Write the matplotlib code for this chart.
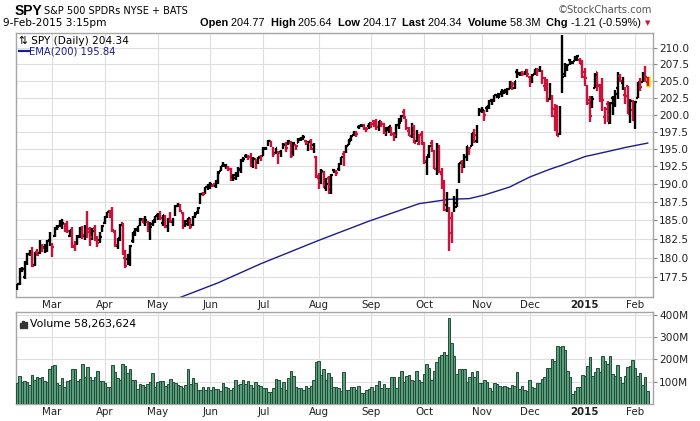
import numpy as np
import pandas as pd
import matplotlib
matplotlib.use("Agg")
import matplotlib.pyplot as plt
from matplotlib.ticker import NullLocator
from matplotlib.patches import Rectangle

# trading days, 10-Feb-2014 .. 9-Feb-2015
holidays = ["2014-02-17", "2014-04-18", "2014-05-26", "2014-07-04", "2014-09-01",
            "2014-11-27", "2014-12-25", "2015-01-01", "2015-01-19"]
dates = pd.bdate_range("2014-02-10", "2015-02-09")
dates = dates[~dates.isin(pd.to_datetime(holidays))]

month_labels = ["Mar", "Apr", "May", "Jun", "Jul", "Aug", "Sep", "Oct", "Nov", "Dec", "2015", "Feb"]

opens = [
    176.2, 176.6, 178.5, 177.4, 179.3, 180.5, 180.5, 179.0, 180.7, 180.6, 181.5, 181.4, 180.9, 182.3,
    181.3, 182.9, 184.0, 184.3, 185.0, 184.5, 184.6, 182.9, 183.8, 181.4, 181.8, 182.9, 184.0, 182.9, 185.5, 183.9, 183.3, 184.0, 182.1, 182.3, 183.6,
    184.6, 185.6, 186.3, 186.6, 183.4, 181.6, 182.6, 184.6, 179.9, 179.8, 180.4, 182.2, 183.2, 183.8, 184.4, 185.1, 185.4, 184.8, 184.0, 184.5, 184.8,
    185.7, 186.0, 184.7, 185.6, 184.2, 185.1, 184.8, 185.7, 187.0, 187.1, 186.0, 184.8, 184.5, 185.1, 184.4, 185.6, 186.1, 187.4, 188.6, 189.0, 189.6,
    190.1, 189.8, 189.8, 190.5, 191.9, 192.6, 192.5, 192.3, 192.1, 190.9, 190.9, 191.4, 192.1, 193.7, 194.0, 193.9, 193.9, 192.5, 193.5, 193.3, 193.7,
    194.0, 195.1, 195.5, 196.1, 195.2, 194.4, 193.3, 194.5, 195.2, 195.7, 195.9, 195.8, 194.2, 195.5, 195.9, 196.4, 196.6, 196.2, 195.9, 196.1, 195.6, 193.9,
    190.9, 190.8, 191.7, 189.5, 190.9, 189.2, 192.0, 191.6, 192.1, 193.1, 194.2, 194.5, 195.6, 196.2, 197.0, 197.4, 198.1, 198.3, 198.4, 197.6, 198.3,
    198.8, 199.0, 198.7, 198.2, 199.0, 198.6, 197.4, 197.7, 198.1, 197.1, 196.7, 198.5, 199.0, 200.3, 199.3, 197.6, 196.9, 198.3, 196.1, 195.7, 197.1,
    195.8, 193.2, 194.1, 195.9, 194.7, 192.2, 195.4, 191.4, 189.5, 187.1, 184.8, 183.3, 187.1, 186.9, 190.4, 193.1, 192.8, 193.9, 194.7, 195.4, 197.3, 196.2, 200.5,
    200.7, 200.3, 200.9, 201.2, 202.1, 202.2, 202.9, 202.5, 203.3, 203.4, 203.4, 203.8, 204.8, 203.9, 206.3, 206.2, 206.2, 206.0, 206.7,
    205.6, 204.8, 206.0, 206.6, 206.7, 206.3, 204.2, 205.1, 202.3, 202.1, 200.8, 197.8, 197.1, 203.3, 206.0, 206.6, 208.2, 207.8, 208.1, 208.2, 208.2, 207.99,
    206.4, 204.2, 202.1, 201.4, 204.0, 206.4, 204.4, 204.1, 199.7, 201.6, 198.8, 202.4, 201.5, 203.99, 205.8, 204.7, 202.9, 204.2, 200.4, 200.6,
    200.05, 202.5, 204.1, 204.8, 206.4, 204.77,
]
highs = [
    176.6, 178.7, 178.8, 179.5, 180.6, 181.0, 181.4, 180.8, 181.2, 182.3, 181.8, 181.8, 182.3, 183.4,
    181.9, 184.1, 184.4, 185.0, 185.2, 184.7, 184.9, 183.7, 184.1, 182.2, 183.0, 184.1, 184.3, 184.4, 186.3, 184.1, 184.0, 184.4, 182.9, 183.5, 184.4,
    185.6, 186.2, 186.4, 186.9, 183.7, 182.6, 184.5, 184.7, 181.0, 180.5, 181.7, 183.5, 184.0, 184.3, 185.4, 185.3, 185.6, 184.9, 184.8, 185.1, 185.6,
    186.0, 186.3, 185.8, 185.7, 185.3, 186.2, 185.3, 187.1, 187.4, 187.2, 186.1, 185.0, 185.4, 185.3, 185.6, 186.1, 186.8, 188.8, 188.9, 189.6, 190.0,
    190.3, 190.1, 190.6, 191.8, 192.6, 193.1, 192.9, 192.5, 192.3, 191.5, 191.7, 192.4, 193.6, 193.9, 194.2, 194.1, 194.4, 193.8, 193.6, 193.8, 194.1,
    195.3, 195.3, 196.3, 196.2, 195.3, 195.2, 194.7, 194.8, 195.8, 196.0, 196.3, 196.1, 196.0, 195.6, 196.6, 196.7, 197.0, 196.3, 196.2, 196.4, 195.8, 194.0,
    191.6, 192.2, 191.8, 190.9, 191.1, 191.4, 192.2, 192.0, 193.0, 193.8, 194.7, 195.5, 196.4, 197.0, 197.6, 197.6, 198.5, 198.6, 198.6, 198.2, 198.7,
    198.9, 199.2, 199.4, 199.1, 199.1, 198.8, 198.1, 198.3, 198.2, 197.4, 198.6, 199.5, 199.9, 200.8, 199.4, 198.1, 198.8, 198.4, 197.7, 197.2, 197.6,
    196.0, 194.0, 195.6, 196.3, 194.8, 195.8, 195.5, 192.3, 190.6, 188.9, 186.8, 186.1, 188.3, 189.3, 193.0, 193.4, 194.3, 195.4, 195.3, 197.3, 197.9, 198.4, 200.9,
    201.1, 200.6, 201.3, 202.1, 202.3, 202.9, 203.1, 203.2, 203.8, 203.7, 203.9, 205.0, 204.9, 205.0, 206.8, 206.4, 206.5, 206.5, 206.8,
    205.8, 206.0, 206.8, 207.0, 207.3, 206.7, 205.6, 205.3, 204.7, 202.9, 201.5, 201.4, 201.2, 212.0, 207.7, 207.5, 208.4, 208.1, 208.8, 208.97, 208.5, 208.19,
    206.9, 204.4, 202.7, 202.7, 206.2, 206.4, 204.6, 205.5, 201.1, 202.0, 201.8, 202.7, 203.7, 206.3, 206.1, 205.6, 204.1, 204.3, 202.3, 202.2,
    202.03, 204.85, 205.5, 206.3, 207.3, 205.64,
]
lows = [
    175.8, 176.4, 178.1, 177.2, 179.0, 180.2, 178.8, 178.9, 180.2, 180.5, 180.8, 180.6, 180.7, 181.6,
    180.1, 182.8, 183.7, 184.1, 183.9, 183.5, 183.3, 182.7, 181.3, 180.9, 181.7, 182.6, 182.5, 182.4, 182.6, 181.6, 182.4, 182.2, 181.4, 182.0, 183.4,
    184.5, 185.3, 185.3, 183.5, 181.4, 181.1, 182.2, 180.3, 178.7, 179.0, 178.9, 181.9, 182.9, 183.4, 184.3, 184.6, 184.3, 183.4, 182.4, 184.3, 184.6,
    185.1, 185.0, 184.3, 184.0, 183.5, 184.6, 184.3, 185.6, 186.8, 186.2, 183.8, 184.1, 184.3, 183.8, 184.3, 185.4, 185.9, 187.3, 188.3, 188.6, 189.2,
    189.4, 189.6, 189.5, 190.1, 191.8, 192.4, 192.2, 191.8, 190.5, 190.5, 190.6, 191.0, 191.6, 193.1, 193.7, 193.4, 192.4, 192.3, 192.2, 192.8, 193.3,
    194.0, 194.8, 195.4, 195.3, 193.9, 194.3, 192.9, 193.9, 195.0, 194.6, 195.5, 193.7, 194.0, 194.8, 195.8, 196.1, 196.3, 195.5, 194.7, 194.9, 194.4, 190.9,
    189.3, 190.0, 189.5, 189.1, 188.6, 188.6, 191.6, 191.1, 191.9, 192.7, 192.5, 194.4, 195.6, 196.1, 196.8, 196.7, 197.9, 198.2, 197.8, 197.4, 197.9,
    198.0, 198.1, 197.7, 197.6, 198.2, 197.1, 196.9, 197.3, 196.9, 196.2, 196.6, 197.9, 198.9, 199.3, 197.7, 196.8, 196.5, 195.8, 196.0, 195.6, 195.6,
    192.9, 191.3, 193.7, 194.6, 192.1, 191.3, 191.6, 189.4, 186.3, 186.2, 180.9, 182.0, 186.1, 186.8, 190.2, 191.6, 192.3, 193.3, 194.1, 195.4, 195.9, 195.9, 199.8,
    200.2, 199.0, 200.3, 200.8, 201.4, 201.9, 202.4, 202.4, 202.6, 203.1, 202.9, 203.8, 203.7, 203.8, 205.5, 205.8, 205.8, 205.9, 205.6,
    204.1, 204.7, 205.9, 205.7, 206.3, 204.6, 203.5, 201.9, 202.1, 199.7, 197.6, 196.8, 197.0, 203.2, 205.6, 206.5, 207.4, 207.6, 208.0, 208.1, 207.5, 205.39,
    204.2, 201.4, 198.9, 200.9, 203.9, 203.5, 201.9, 200.5, 198.6, 198.9, 198.6, 199.9, 201.1, 202.3, 204.8, 203.7, 201.6, 200.1, 198.7, 199.1,
    197.86, 202.5, 203.5, 204.8, 204.8, 204.17,
]
closes = [
    176.5, 178.45, 178.55, 179.45, 180.45, 180.65, 178.95, 180.55, 180.3, 181.3, 181.25, 181.25, 182.2, 182.7,
    181.4, 183.95, 184.1, 184.5, 184.6, 184.5, 183.6, 183.65, 181.6, 181.1, 182.7, 184.0, 183.05, 184.1, 183.5, 182.7, 183.6, 182.3, 181.9, 182.8, 184.3,
    185.5, 186.1, 185.9, 183.7, 181.65, 182.4, 184.4, 180.5, 178.9, 180.3, 181.5, 183.4, 183.7, 184.3, 185.15, 184.7, 185.1, 183.6, 184.15, 185.0, 185.55,
    185.6, 185.3, 185.7, 184.05, 185.15, 184.95, 185.25, 187.0, 187.2, 186.3, 184.7, 184.9, 185.3, 184.1, 185.45, 185.9, 186.7, 188.7, 188.6, 189.6, 189.9,
    190.1, 190.0, 190.4, 191.6, 192.5, 192.7, 192.75, 192.1, 190.7, 191.3, 191.45, 192.0, 193.4, 193.6, 193.95, 193.9, 192.7, 193.6, 193.45, 193.8, 193.75,
    195.05, 195.2, 196.2, 195.5, 194.25, 195.1, 194.35, 194.6, 195.6, 195.2, 196.2, 193.95, 195.9, 195.4, 196.35, 196.55, 196.7, 195.9, 195.95, 194.95, 195.0, 191.15,
    190.55, 191.9, 189.95, 190.05, 189.1, 191.3, 191.85, 191.55, 192.85, 193.8, 193.75, 195.35, 196.4, 196.9, 197.5, 197.2, 198.2, 198.3, 198.2, 197.9, 198.7,
    198.6, 198.45, 198.2, 199.05, 198.55, 197.3, 198.05, 198.25, 197.1, 196.95, 198.45, 198.7, 199.8, 199.6, 198.05, 196.8, 198.65, 195.85, 197.55, 197.0, 195.95,
    193.3, 193.3, 195.45, 195.2, 192.2, 195.55, 191.7, 189.5, 186.4, 186.7, 185.4, 185.25, 187.45, 189.25, 193.0, 191.65, 193.85, 195.35, 195.1, 197.3, 197.0, 198.3, 200.55,
    200.65, 199.95, 201.25, 202.05, 202.2, 202.85, 203.05, 203.1, 203.25, 203.7, 203.8, 204.85, 204.6, 204.95, 206.0, 206.15, 206.0, 206.5, 206.05,
    204.6, 205.95, 206.75, 206.5, 206.85, 205.5, 205.35, 202.05, 203.05, 199.8, 198.4, 196.8, 200.7, 205.65, 206.52, 207.47, 207.75, 207.77, 208.44, 208.72, 207.6, 205.54,
    205.43, 201.72, 199.82, 202.31, 205.9, 204.25, 202.65, 202.08, 200.86, 199.02, 201.63, 202.06, 203.08, 206.1, 204.97, 205.45, 202.74, 200.14, 201.99, 199.45,
    201.92, 204.84, 204.06, 206.12, 205.55, 204.34,
]
# volume in millions of shares
volumes = [
    92, 125, 100, 103, 100, 85, 128, 107, 121, 118, 121, 103, 98, 155,
    170, 173, 95, 85, 118, 75, 103, 107, 155, 155, 104, 110, 178, 121, 164, 119, 107, 122, 146, 103, 103,
    92, 78, 78, 175, 143, 115, 107, 179, 170, 137, 158, 107, 107, 67, 88, 85, 75, 88, 100, 137, 78,
    100, 103, 103, 81, 88, 110, 100, 92, 85, 82, 73, 85, 155, 88, 115, 95, 63, 63, 75, 63, 75,
    63, 78, 66, 66, 60, 92, 78, 70, 63, 70, 107, 85, 88, 107, 88, 103, 85, 70, 100, 85, 81,
    73, 70, 52, 55, 70, 110, 107, 70, 100, 63, 115, 148, 125, 78, 73, 70, 63, 81, 70, 81, 107, 188,
    191, 130, 158, 107, 140, 119, 75, 75, 70, 58, 145, 63, 63, 75, 75, 63, 81, 48, 48, 63, 66,
    75, 58, 85, 103, 70, 88, 70, 70, 119, 119, 70, 119, 149, 97, 125, 128, 107, 103, 149, 107, 97,
    133, 178, 160, 107, 149, 187, 209, 222, 231, 222, 384, 272, 215, 133, 155, 155, 155, 100, 122, 142, 122, 148, 93,
    93, 107, 100, 70, 58, 93, 88, 81, 78, 81, 75, 73, 84, 80, 143, 66, 81, 63, 58,
    106, 75, 70, 93, 93, 110, 122, 160, 160, 204, 194, 260, 254, 260, 242, 148, 119, 45, 60, 78, 75, 130,
    125, 170, 209, 125, 145, 160, 145, 215, 194, 179, 215, 134, 125, 175, 122, 93, 125, 167, 172, 196,
    160, 125, 137, 85, 122, 58.26,
]
# EMA(200) at a few bars
ema_bar = [64, 80, 97, 120, 140, 160, 172, 180, 186, 196, 204, 212, 217, 226, 236, 242, 251]
ema_val = [174.7, 176.7, 179.2, 182.3, 184.9, 187.3, 187.9, 188.0, 188.5, 189.6, 191.0, 192.1,
           192.7, 193.9, 194.7, 195.2, 195.84]

n = len(closes)
x = np.arange(n)
month_pos = [i for i in range(1, n) if dates[i].month != dates[i - 1].month]

RED = "#cc1238"
GRID = "#dedede"
EDGE = "#a6a6a6"
W, H = 700, 421

fig = plt.figure(figsize=(7, 4.21), dpi=100)
ax = fig.add_axes([16 / W, 1 - 297 / H, 637 / W, 264 / H])
axv = fig.add_axes([16 / W, 1 - 404 / H, 637 / W, 92.3 / H])

# price bars, red when the close is below the previous close
colors = ["black"] + [RED if closes[i] < closes[i - 1] else "black" for i in range(1, n)]
ax.vlines(n - 1, lows[-1] - 0.15, highs[-1] + 0.15, color="#f2e600", lw=3.5, zorder=2)
ax.vlines(x, lows, highs, colors=colors, lw=1.7, zorder=3)
ax.hlines(opens, x - 0.65, x, colors=colors, lw=1.6, zorder=3)
ax.hlines(closes, x, x + 0.65, colors=colors, lw=1.6, zorder=3)
ax.plot(ema_bar, ema_val, color="#1c1c8c", lw=1.0, zorder=2)

ax.set_yscale("log")
ax.set_ylim(174.87, 212.36)
ax.set_xlim(-0.4, 253.1)
yt = np.arange(177.5, 210.1, 2.5)
ax.yaxis.set_minor_locator(NullLocator())
ax.set_yticks(yt)
ax.set_yticklabels([f"{v:.1f}" for v in yt])
ax.yaxis.tick_right()
ax.set_xticks(month_pos)
ax.set_xticklabels(month_labels)

axv.bar(x, volumes, width=1.0, color="#5c9e7d", edgecolor="#1f4d35", linewidth=0.7, zorder=3)
axv.set_xlim(-0.4, 253.1)
axv.set_ylim(0, 414)
axv.set_yticks([100, 200, 300, 400])
axv.set_yticklabels(["100M", "200M", "300M", "400M"])
axv.yaxis.tick_right()
axv.set_xticks(month_pos)
axv.set_xticklabels(month_labels)

for a in (ax, axv):
    a.grid(True, color=GRID, lw=0.8, zorder=0)
    a.set_axisbelow(True)
    for s in a.spines.values():
        s.set_color(EDGE)
        s.set_linewidth(1.0)
    a.tick_params(axis="y", direction="out", length=3, width=0.8, color="#888888",
                  labelsize=7.6, pad=1.5, labelcolor="#222222")
    a.tick_params(axis="x", length=0, labelsize=7.4, pad=2.5, labelcolor="#222222")
    for lbl in a.get_xticklabels():
        if lbl.get_text() == "2015":
            lbl.set_fontweight("bold")


def px(xp, yp):
    return xp / W, 1 - yp / H


# title block
fig.text(*px(15, 11), "SPY", fontsize=10, fontweight="bold", family="Liberation Sans", va="center")
fig.text(*px(44, 11.5), "S&P 500 SPDRs NYSE + BATS", fontsize=7.0, va="center")
fig.text(*px(3, 23), "9-Feb-2015 3:15pm", fontsize=7.6, va="center")
fig.text(*px(652, 10), "\u00a9StockCharts.com", fontsize=7.2, color="#555555", ha="right", va="center")

parts = [("Open ", "bold"), ("204.77  ", "normal"), ("High ", "bold"), ("205.64  ", "normal"),
         ("Low ", "bold"), ("204.17  ", "normal"), ("Last ", "bold"), ("204.34  ", "normal"),
         ("Volume ", "bold"), ("58.3M  ", "normal"), ("Chg ", "bold"), ("-1.21 (-0.59%)", "normal")]
fig.canvas.draw()
rend = fig.canvas.get_renderer()
xp = 200
for s, wt in parts:
    t = fig.text(*px(xp, 23), s, fontsize=7.9, fontweight=wt, family="Liberation Sans", va="center")
    xp = t.get_window_extent(renderer=rend).x1
fig.text(*px(xp + 7, 23), "\u25bc", fontsize=5, color=RED, ha="center", va="center")

# legends inside the panels
ax.text(0.005, 0.988, "\u21c5 SPY (Daily) 204.34", transform=ax.transAxes, fontsize=7.6, va="top")
ax.plot([0.004, 0.02], [0.93, 0.93], transform=ax.transAxes, color="#1c1c8c", lw=1.6)
ax.text(0.021, 0.93, "EMA(200) 195.84", transform=ax.transAxes, fontsize=7.2, color="#1c1c8c", va="center")

for i, hh in enumerate([0.45, 0.7, 0.55]):
    axv.add_patch(Rectangle((0.006 + i * 0.004, 0.82), 0.0032, hh * 0.12, transform=axv.transAxes,
                            color="#333333", zorder=5))
axv.text(0.022, 0.87, "Volume 58,263,624", transform=axv.transAxes, fontsize=7.8, va="center")

fig.savefig("out.png", dpi=100)
